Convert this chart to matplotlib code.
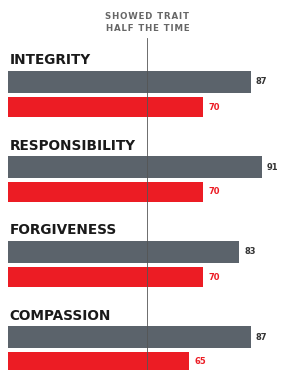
import matplotlib
matplotlib.use("Agg")
import matplotlib.pyplot as plt

# data
traits = ["INTEGRITY", "RESPONSIBILITY", "FORGIVENESS", "COMPASSION"]
gray_values = [87, 91, 83, 87]
red_values = [70, 70, 70, 65]
half_mark = 50
header = ["SHOWED TRAIT", "HALF THE TIME"]

GRAY = "#5b636b"
RED = "#ec1c24"
HAIR = "\u200a"


def spaced(s):
    # loose tracking for the small caps labels
    return HAIR.join(s)


fig = plt.figure(figsize=(2.98, 3.70), dpi=100)
ax = fig.add_axes([8 / 298, 0, 290 / 298, 1])
ax.set_xlim(0, 104)
ax.set_ylim(370, 0)  # pixel rows, top to bottom
ax.axis("off")

step = 85
for i, name in enumerate(traits):
    y_title = 60.5 + step * i
    y_gray = 82 + step * i
    y_red = 107 + step * i
    ax.text(0.6, y_title, name, fontsize=9.8, fontweight="heavy",
            color="#1a1a1a", va="center", ha="left")
    ax.barh(y_gray, gray_values[i], height=22, color=GRAY, left=0)
    ax.barh(y_red, red_values[i], height=20, color=RED, left=0)
    ax.text(gray_values[i] + 1.8, y_gray, str(gray_values[i]), fontsize=6,
            fontweight="heavy", color="#333333", va="center", ha="left")
    ax.text(red_values[i] + 1.8, y_red, str(red_values[i]), fontsize=6,
            fontweight="heavy", color=RED, va="center", ha="left")

ax.plot([half_mark, half_mark], [38, 370], color="#555555", lw=0.6, zorder=3)
ax.text(half_mark, 16.5, spaced(header[0]), fontsize=6.2, fontweight="bold",
        color="#666666", ha="center", va="center")
ax.text(half_mark, 28.5, spaced(header[1]), fontsize=6.2, fontweight="bold",
        color="#666666", ha="center", va="center")

fig.savefig("out.png", dpi=100)
